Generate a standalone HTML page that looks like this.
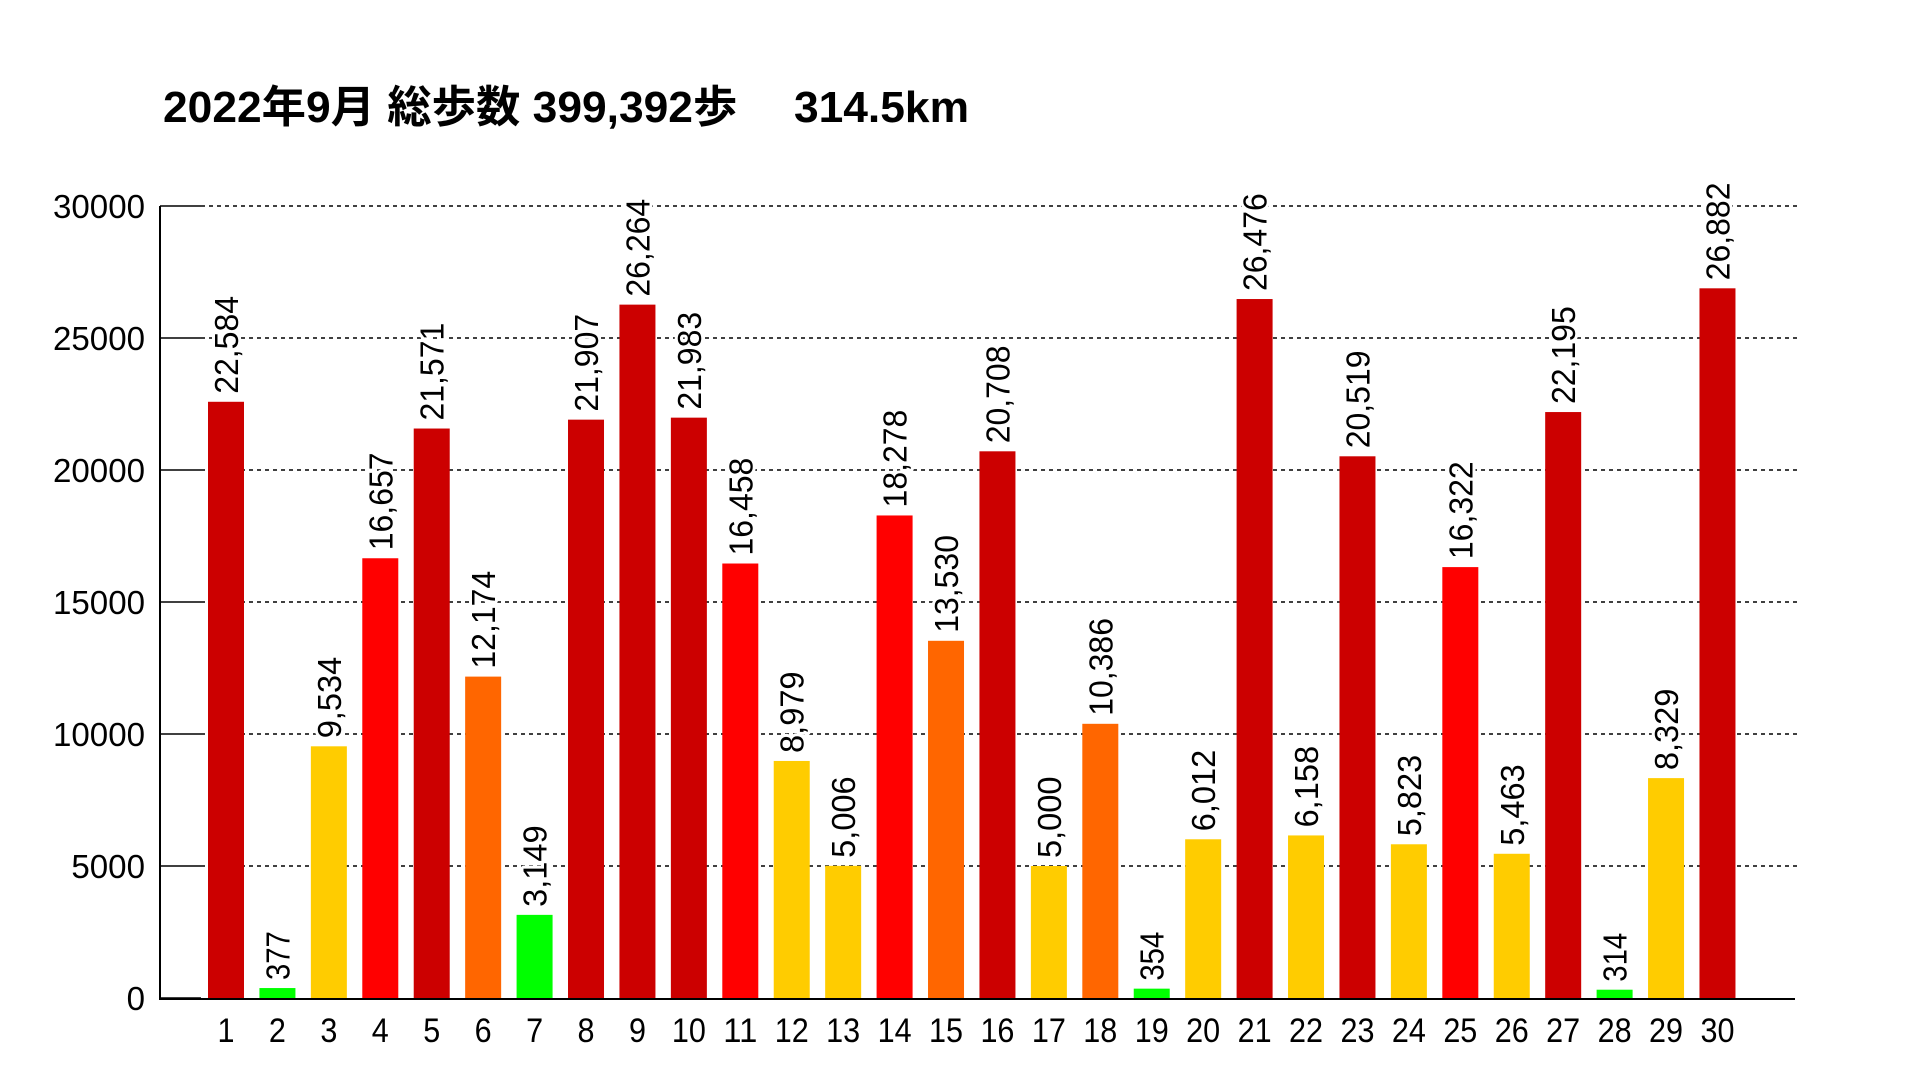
<!DOCTYPE html>
<html><head><meta charset="utf-8"><style>html,body{margin:0;padding:0;background:#fff}svg{display:block}</style></head>
<body>
<svg id="c" width="1920" height="1080" viewBox="0 0 1920 1080" xmlns="http://www.w3.org/2000/svg" font-family="Liberation Sans, Noto Sans CJK JP, sans-serif">
<text x="163" y="122" font-size="44" font-weight="bold" font-family="Liberation Sans, Noto Sans CJK JP, sans-serif" textLength="806" lengthAdjust="spacingAndGlyphs">2022年9月 総歩数 399,392歩　 314.5km</text>
<g id="g"></g>
</svg>
<script>
(function(){
var vals=[22584,377,9534,16657,21571,12174,3149,21907,26264,21983,16458,8979,5006,18278,13530,20708,5000,10386,354,6012,26476,6158,20519,5823,16322,5463,22195,314,8329,26882];
var y0=998,k=792/30000,s='';
function Y(v){return y0-v*k;}
for(var t=0;t<=30000;t+=5000){var y=Y(t);
 if(t>0)s+='<line x1="201" y1="'+y+'" x2="1797" y2="'+y+'" stroke="#000" stroke-width="1.5" stroke-dasharray="4,4"/>';
 s+='<line x1="160" y1="'+y+'" x2="201" y2="'+y+'" stroke="#000" stroke-width="1.5"/>';
 s+='<text x="145" y="'+(y+12)+'" font-size="33" text-anchor="end" textLength="'+(String(t).length*18.4)+'" lengthAdjust="spacingAndGlyphs">'+t+'</text>';}
function col(v){return v>=20000?'#cc0000':v>=15000?'#ff0000':v>=10000?'#ff6600':v>=5000?'#ffcc00':'#00ff00';}
for(var i=0;i<30;i++){var v=vals[i],bx=208+i*51.43,cx=bx+18,ty=Y(v);
 s+='<rect x="'+bx+'" y="'+ty+'" width="36" height="'+(y0-ty)+'" fill="'+col(v)+'"/>';
 var lab=v.toLocaleString('en-US');
 var L=lab.length*16.3;
 s+='<text transform="translate('+(cx+12)+','+(ty-8)+') rotate(-90)" font-size="33" textLength="'+L+'" lengthAdjust="spacingAndGlyphs" stroke="#fff" stroke-width="6" paint-order="stroke" stroke-linejoin="round">'+lab+'</text>';
 var n=String(i+1);
 s+='<text x="'+cx+'" y="1042" font-size="34" text-anchor="middle" textLength="'+(n.length*17)+'" lengthAdjust="spacingAndGlyphs">'+n+'</text>';}
s+='<line x1="160" y1="206" x2="160" y2="999" stroke="#000" stroke-width="2"/>';
s+='<line x1="159" y1="999" x2="1795" y2="999" stroke="#000" stroke-width="2"/>';
document.getElementById('g').innerHTML=s;
})();
</script>
</body></html>
